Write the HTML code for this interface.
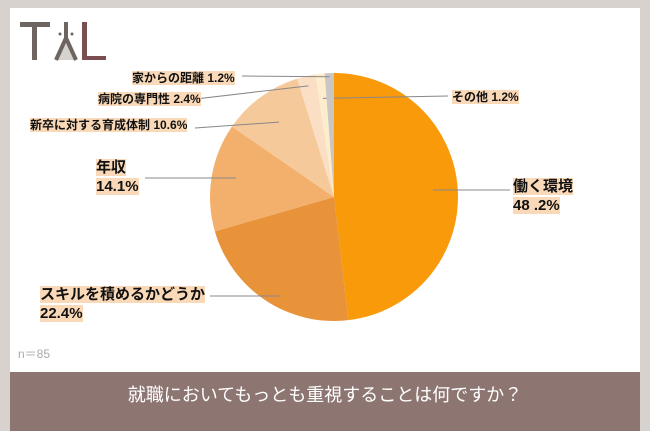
<!DOCTYPE html>
<html><head><meta charset="utf-8"><style>
html,body{margin:0;padding:0;}
body{width:650px;height:431px;background:#d8d2cf;position:relative;overflow:hidden;font-family:"Liberation Sans","Noto Sans CJK JP",sans-serif;}
#panel{position:absolute;left:10px;top:8px;width:630px;height:364px;background:#fff;}
#band{position:absolute;left:10px;top:372px;width:630px;height:59px;background:#8d7672;color:#fff;font-size:18px;text-align:center;line-height:46px;}
.lbl{position:absolute;color:#111;font-weight:bold;white-space:nowrap;}
.lbl span{background:#fad9b8;}
</style></head><body>
<div id="panel"></div>
<svg id="logo" style="position:absolute;left:18px;top:18px" width="90" height="48">
<rect x="2" y="4" width="30" height="5" fill="#6e6560"/><rect x="14" y="4" width="5" height="38" fill="#6e6560"/>
<polygon points="38,42 48,20 58,42" fill="#d6d2d0"/>
<line x1="38" y1="42" x2="48" y2="20" stroke="#6e6560" stroke-width="4"/><line x1="58" y1="42" x2="48" y2="20" stroke="#6e6560" stroke-width="4"/>
<line x1="48" y1="20" x2="48" y2="4" stroke="#6e6560" stroke-width="4"/>
<circle cx="42" cy="16" r="1.5" fill="#6e6560"/><circle cx="54" cy="16" r="1.5" fill="#6e6560"/>
<rect x="64" y="4" width="5" height="38" fill="#7a4e50"/><rect x="64" y="38" width="24" height="4" fill="#7a4e50"/>
</svg>
<svg id="pie" style="position:absolute;left:0;top:0" width="650" height="431"></svg>
<div class="lbl" style="left:513px;top:177px;font-size:15px;line-height:19px"><span>働く環境</span><br><span>48 .2%</span></div>
<div class="lbl" style="left:40px;top:285px;font-size:15px;line-height:19px"><span>スキルを積めるかどうか</span><br><span>22.4%</span></div>
<div class="lbl" style="left:96px;top:158px;font-size:15px;line-height:19px"><span>年収</span><br><span>14.1%</span></div>
<div class="lbl" style="left:30px;top:117px;font-size:12px;line-height:16px"><span>新卒に対する育成体制 10.6%</span></div>
<div class="lbl" style="left:98px;top:91px;font-size:12px;line-height:16px"><span>病院の専門性 2.4%</span></div>
<div class="lbl" style="left:132px;top:70px;font-size:12px;line-height:16px"><span>家からの距離 1.2%</span></div>
<div class="lbl" style="left:452px;top:89px;font-size:12px;line-height:16px"><span>その他 1.2%</span></div>
<div style="position:absolute;left:18px;top:345px;color:#aaa;font-size:12px">n＝85</div>
<div id="band">就職においてもっとも重視することは何ですか？</div>
<script>
const categories=["働く環境","スキルを積めるかどうか","年収","新卒に対する育成体制","病院の専門性","その他","家からの距離"];
const values=[48.2,22.4,14.1,10.6,2.4,1.2,1.2];
const colors=["#f99a0b","#e8923a","#f3b06c","#f6c99a","#fadfc4","#fdedcc","#c9c6c4"];
const leaders=[[510,190,0.8],[210,296,0.8],[145,178,0.8],[195,128,0.75],[170,102,0.92],[448,96,0.8],[242,76,0.97]];
const svg=document.getElementById('pie');
const NS='http://www.w3.org/2000/svg';
const cx=334,cy=197,r=124;
const total=values.reduce((a,b)=>a+b,0);
let a0=0;
values.forEach((v,i)=>{
  const a1=a0+v/total*2*Math.PI;
  const x0=cx+r*Math.sin(a0),y0=cy-r*Math.cos(a0),x1=cx+r*Math.sin(a1),y1=cy-r*Math.cos(a1);
  const p=document.createElementNS(NS,'path');
  p.setAttribute('d',`M${cx},${cy}L${x0},${y0}A${r},${r} 0 ${a1-a0>Math.PI?1:0} 1 ${x1},${y1}Z`);
  p.setAttribute('fill',colors[i]);
  
  
  svg.appendChild(p);
  const am=(a0+a1)/2,lf=leaders[i][2];
  const sx=cx+r*lf*Math.sin(am);
  const tx=leaders[i][0],ty=leaders[i][1];
  const l=document.createElementNS(NS,'polyline');
  l.setAttribute('points',i<3?`${sx},${ty} ${tx},${ty}`:`${sx},${cy-r*lf*Math.cos(am)} ${tx},${ty}`);
  l.setAttribute('fill','none');
  l.setAttribute('stroke','#888');l.setAttribute('stroke-width','1');
  
  
  svg.appendChild(l);
  a0=a1;
});
</script>
</body></html>
